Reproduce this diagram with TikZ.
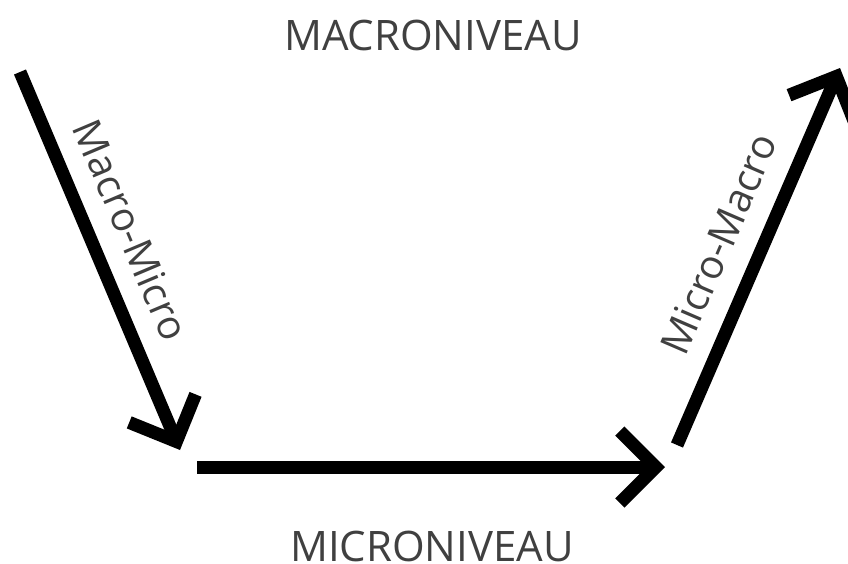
\documentclass[tikz,border=0pt]{standalone}
\usepackage{fontspec}
\setmainfont{Open Sans}
\usetikzlibrary{arrows.meta}
\definecolor{labelgray}{HTML}{404040}

\begin{document}
\begin{tikzpicture}[x=1pt,y=-1pt]
\useasboundingbox (0,0) rectangle (848,563);
\begin{scope}[every node/.style={text=labelgray,inner sep=0pt,font=\fontsize{42}{48}\selectfont}]
    \node (MA) at (433,35) {MACRONIVEAU};
    \node (MI) at (432,546) {MICRONIVEAU};
\end{scope}
\coordinate (A) at (20,72);
\coordinate (B) at (180,450);
\coordinate (C) at (197,467);
\coordinate (D) at (665,467);
\coordinate (E) at (677,445);
\coordinate (F) at (840,68);
\begin{scope}[>={Straight Barb[length=36pt,width=72pt]},
              every edge/.style={draw,line width=13pt},
              every node/.style={text=labelgray,font=\fontsize{40}{46}\selectfont}]
    \path [->] (A) edge node [sloped,above=16pt,pos=.46]{Macro-Micro} (B);
    \path [->] (C) edge (D);
    \path [->] (E) edge node [sloped,above=17pt,pos=.49]{Micro-Macro} (F);
\end{scope}
\end{tikzpicture}
\end{document}
